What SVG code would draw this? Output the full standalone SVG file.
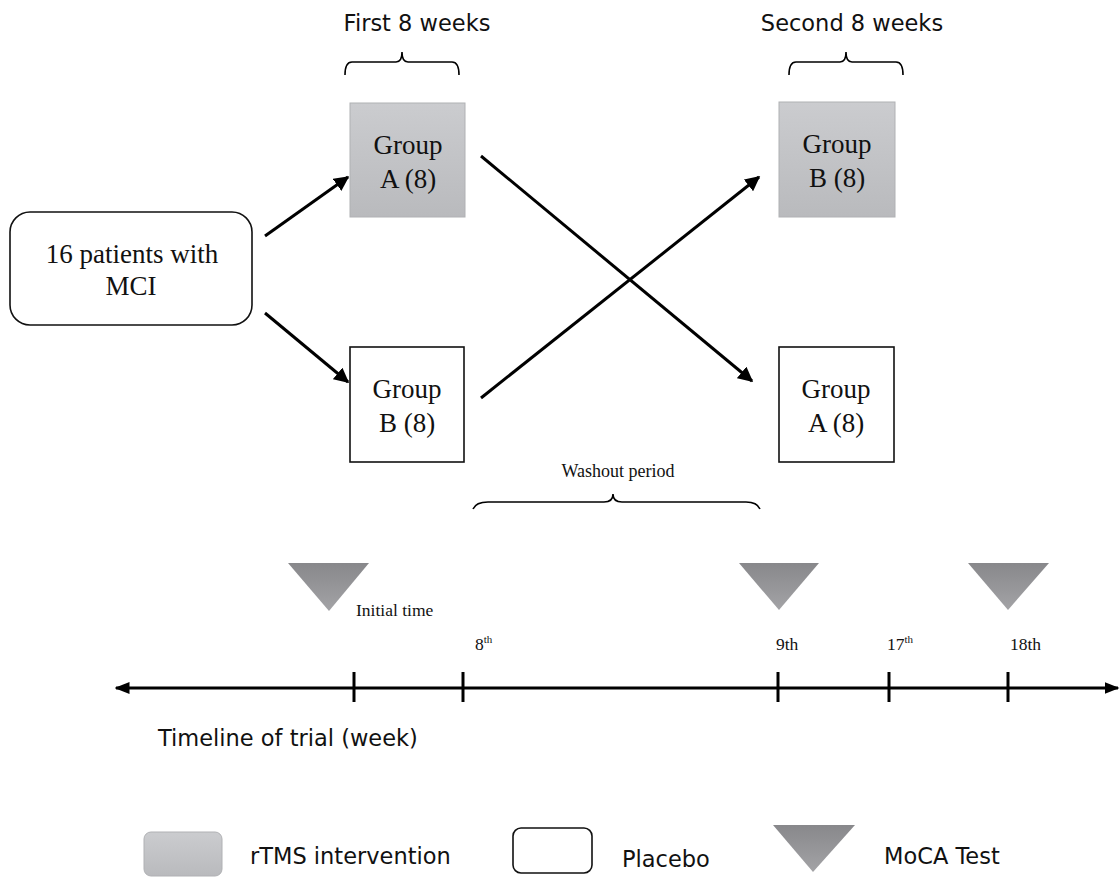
<svg xmlns="http://www.w3.org/2000/svg" width="1120" height="877" viewBox="0 0 1120 877">
<defs>
<linearGradient id="gGray" x1="0" y1="0" x2="0" y2="1">
<stop offset="0" stop-color="#cbcccf"/>
<stop offset="1" stop-color="#b9babd"/>
</linearGradient>
<linearGradient id="gTri" x1="0" y1="0" x2="0" y2="1">
<stop offset="0" stop-color="#88888b"/>
<stop offset="1" stop-color="#a3a3a6"/>
</linearGradient>
<marker id="arr" viewBox="0 0 10 10" refX="9" refY="5" markerWidth="5" markerHeight="5" orient="auto" markerUnits="strokeWidth">
<path d="M0,0 L10,5 L0,10 z" fill="#000"/>
</marker>
<marker id="arrT" viewBox="0 0 10 10" refX="9" refY="5" markerWidth="5" markerHeight="5" orient="auto-start-reverse" markerUnits="strokeWidth">
<path d="M0,1 L10,5 L0,9 z" fill="#000"/>
</marker>
</defs>
<style>
.serif{font-family:"Liberation Serif","Times New Roman",serif;fill:#111}
.sans{font-family:"DejaVu Sans",Verdana,sans-serif;fill:#111;font-size:22.5px}
.grp{font-size:27px;text-anchor:middle}
.gray{fill:url(#gGray);stroke:#b0b1b4;stroke-width:1}
.white{fill:#fff;stroke:#111;stroke-width:1.6}
.tri{fill:url(#gTri)}
.conn{stroke:#000;stroke-width:3;fill:none}
.brace{stroke:#000;stroke-width:1.6;fill:none}
.tick{stroke:#000;stroke-width:3}
.wk{font-size:17.5px}
</style>
<rect width="1120" height="877" fill="#fff"/>

<g id="header-first">
<text class="sans" x="417" y="31" text-anchor="middle">First 8 weeks</text>
<path class="brace" d="M345,75 Q345,62 352,62 L396,62 Q402,62 402,52 Q402,62 408,62 L452,62 Q459,62 459,75"/>
</g>
<g id="header-second">
<text class="sans" x="852" y="31" text-anchor="middle">Second 8 weeks</text>
<path class="brace" d="M789,75 Q789,62 796,62 L840,62 Q846,62 846,52 Q846,62 852,62 L896,62 Q903,62 903,75"/>
</g>

<g id="patients">
<rect class="white" x="10" y="212" width="242" height="113" rx="20" ry="20"/>
<text class="serif" x="132" y="263" font-size="27" text-anchor="middle">16 patients with</text>
<text class="serif" x="131" y="295" font-size="27" text-anchor="middle">MCI</text>
</g>

<g id="groupA-first">
<rect class="gray" x="350" y="103" width="115" height="114"/>
<text class="serif grp" x="408" y="154">Group</text>
<text class="serif grp" x="408" y="188">A (8)</text>
</g>
<g id="groupB-first">
<rect class="white" x="350" y="347" width="114" height="115"/>
<text class="serif grp" x="407" y="398">Group</text>
<text class="serif grp" x="407" y="432">B (8)</text>
</g>
<g id="groupB-second">
<rect class="gray" x="779" y="102" width="116" height="115"/>
<text class="serif grp" x="837" y="153">Group</text>
<text class="serif grp" x="837" y="187">B (8)</text>
</g>
<g id="groupA-second">
<rect class="white" x="779" y="347" width="115" height="115"/>
<text class="serif grp" x="836" y="398">Group</text>
<text class="serif grp" x="836" y="432">A (8)</text>
</g>

<g id="connectors">
<line class="conn" x1="265" y1="236" x2="348" y2="177" marker-end="url(#arr)"/>
<line class="conn" x1="265" y1="313" x2="348" y2="382" marker-end="url(#arr)"/>
<line class="conn" x1="481" y1="156" x2="752" y2="381" marker-end="url(#arr)"/>
<line class="conn" x1="481" y1="398" x2="759" y2="177" marker-end="url(#arr)"/>
</g>

<g id="washout">
<text class="serif" x="618" y="477" font-size="18" text-anchor="middle">Washout period</text>
<path class="brace" d="M473,509 Q476,502 488,502 L604,502 Q613,502 613,494 Q613,502 622,502 L746,502 Q757,502 760,509"/>
</g>

<g id="moca-markers">
<polygon class="tri" points="288,563 369,563 329,611"/>
<polygon class="tri" points="739,563 819,563 779,610"/>
<polygon class="tri" points="968,563 1049,563 1008,610"/>
<text class="serif" x="356" y="616" font-size="17.5">Initial time</text>
<text class="serif wk" x="475" y="650">8<tspan font-size="11" dy="-7">th</tspan></text>
<text class="serif wk" x="776" y="650">9th</text>
<text class="serif wk" x="887" y="650">17<tspan font-size="11" dy="-7">th</tspan></text>
<text class="serif wk" x="1010" y="650">18th</text>
</g>

<g id="timeline">
<line class="conn" x1="116" y1="688" x2="1118" y2="688" marker-start="url(#arrT)" marker-end="url(#arrT)"/>
<line class="tick" x1="354" y1="672" x2="354" y2="702"/>
<line class="tick" x1="463" y1="672" x2="463" y2="702"/>
<line class="tick" x1="778" y1="672" x2="778" y2="702"/>
<line class="tick" x1="889" y1="672" x2="889" y2="702"/>
<line class="tick" x1="1008" y1="672" x2="1008" y2="702"/>
<text class="sans" x="158" y="746">Timeline of trial (week)</text>
</g>

<g id="legend">
<rect class="gray" x="144" y="832" width="78" height="44" rx="7" ry="7"/>
<text class="sans" x="250" y="864">rTMS intervention</text>
<rect class="white" x="513" y="828" width="79" height="45" rx="8" ry="8"/>
<text class="sans" x="622" y="867">Placebo</text>
<polygon class="tri" points="773,825 855,825 813,872"/>
<text class="sans" x="884" y="864">MoCA Test</text>
</g>
</svg>
